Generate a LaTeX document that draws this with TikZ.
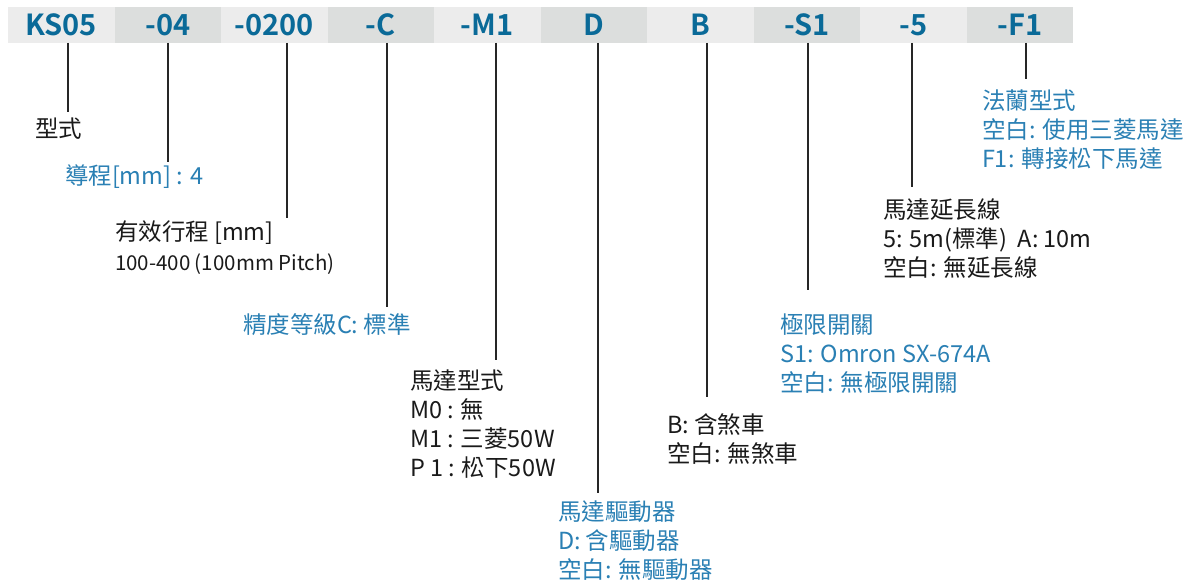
\documentclass[tikz,border=0pt]{standalone}
\usepackage{fontspec}
\setmainfont{Noto Sans CJK TC}
\newfontfamily\hdfont{Noto Sans CJK TC Bold}
\definecolor{hdblue}{HTML}{0A6A98}
\definecolor{lblue}{HTML}{2A80B4}
\definecolor{cellA}{HTML}{ECECEC}
\definecolor{cellB}{HTML}{DCDEDD}
\definecolor{txt}{HTML}{1A1A1A}
\tikzset{
  cell/.style={minimum width=106.5pt, minimum height=36pt, inner sep=0, outer sep=0,
    font=\hdfont\fontsize{29}{29}\selectfont, text=hdblue},
  lbl/.style={anchor=base west, inner sep=0, outer sep=0, font=\fontsize{23.5}{29}\selectfont, text=txt},
  blbl/.style={lbl, text=lblue},
  small/.style={font=\fontsize{20.5}{24}\selectfont},
  tick/.style={line width=1.3pt, draw=black!85}
}
\begin{document}
\begin{tikzpicture}[x=1pt,y=-1pt]
\useasboundingbox[fill=white] (0,0) rectangle (1199,585);
% header
\foreach \t [count=\i from 0] in {KS05,-04,-0200,-C,-M1,D,B,-S1,-5,-F1}{
  \pgfmathsetmacro{\cx}{8+106.5*(\i+0.5)}
  \pgfmathtruncatemacro{\odd}{mod(\i,2)}
  \ifnum\odd=0
    \node[cell, fill=cellA] (h\i) at (\cx,25) {\t};
  \else
    \node[cell, fill=cellB] (h\i) at (\cx,25) {\t};
  \fi
}
% labels
\node[lbl] (l0) at (35,138) {型式};
\node[blbl] (l1) at (65,185) {導程[mm] : 4};
\node[lbl] (l2a) at (115,241) {有效行程 [mm]};
\node[lbl, small] (l2b) at (115,271) {100-400 (100mm Pitch)};
\node[blbl] (l3) at (243,334) {精度等級C: 標準};
\node[lbl] (l4a) at (410,389) {馬達型式};
\node[lbl] (l4b) at (410,418) {M0 : 無};
\node[lbl] (l4c) at (410,447) {M1 : 三菱50W};
\node[lbl] (l4d) at (410,476) {P 1 : 松下50W};
\node[blbl] (l5a) at (558,520) {馬達驅動器};
\node[blbl] (l5b) at (558,549) {D: 含驅動器};
\node[blbl] (l5c) at (558,578) {空白: 無驅動器};
\node[lbl] (l6a) at (667,433) {B: 含煞車};
\node[lbl] (l6b) at (667,462) {空白: 無煞車};
\node[blbl] (l7a) at (780,333) {極限開關};
\node[blbl] (l7b) at (780,362) {S1: Omron SX-674A};
\node[blbl] (l7c) at (780,391) {空白: 無極限開關};
\node[lbl] (l8a) at (883,219) {馬達延長線};
\node[lbl] (l8b) at (883,248) {5: 5m(標準)\ \ A: 10m};
\node[lbl] (l8c) at (883,277) {空白: 無延長線};
\node[blbl] (l9a) at (982,110) {法蘭型式};
\node[blbl] (l9b) at (982,139) {空白: 使用三菱馬達};
\node[blbl] (l9c) at (982,168) {F1: 轉接松下馬達};
% connector ends
\coordinate (e0) at (68,112);
\coordinate (e1) at (168,162);
\coordinate (e2) at (287,218);
\coordinate (e3) at (387,307);
\coordinate (e4) at (496,360);
\coordinate (e5) at (598,493);
\coordinate (e6) at (707,397);
\coordinate (e7) at (808,290);
\coordinate (e8) at (912,187);
\coordinate (e9) at (1026,79);
\foreach \i in {0,...,9}{
  \draw[tick] (h\i.south -| e\i) -- (e\i);
}
\end{tikzpicture}
\end{document}
